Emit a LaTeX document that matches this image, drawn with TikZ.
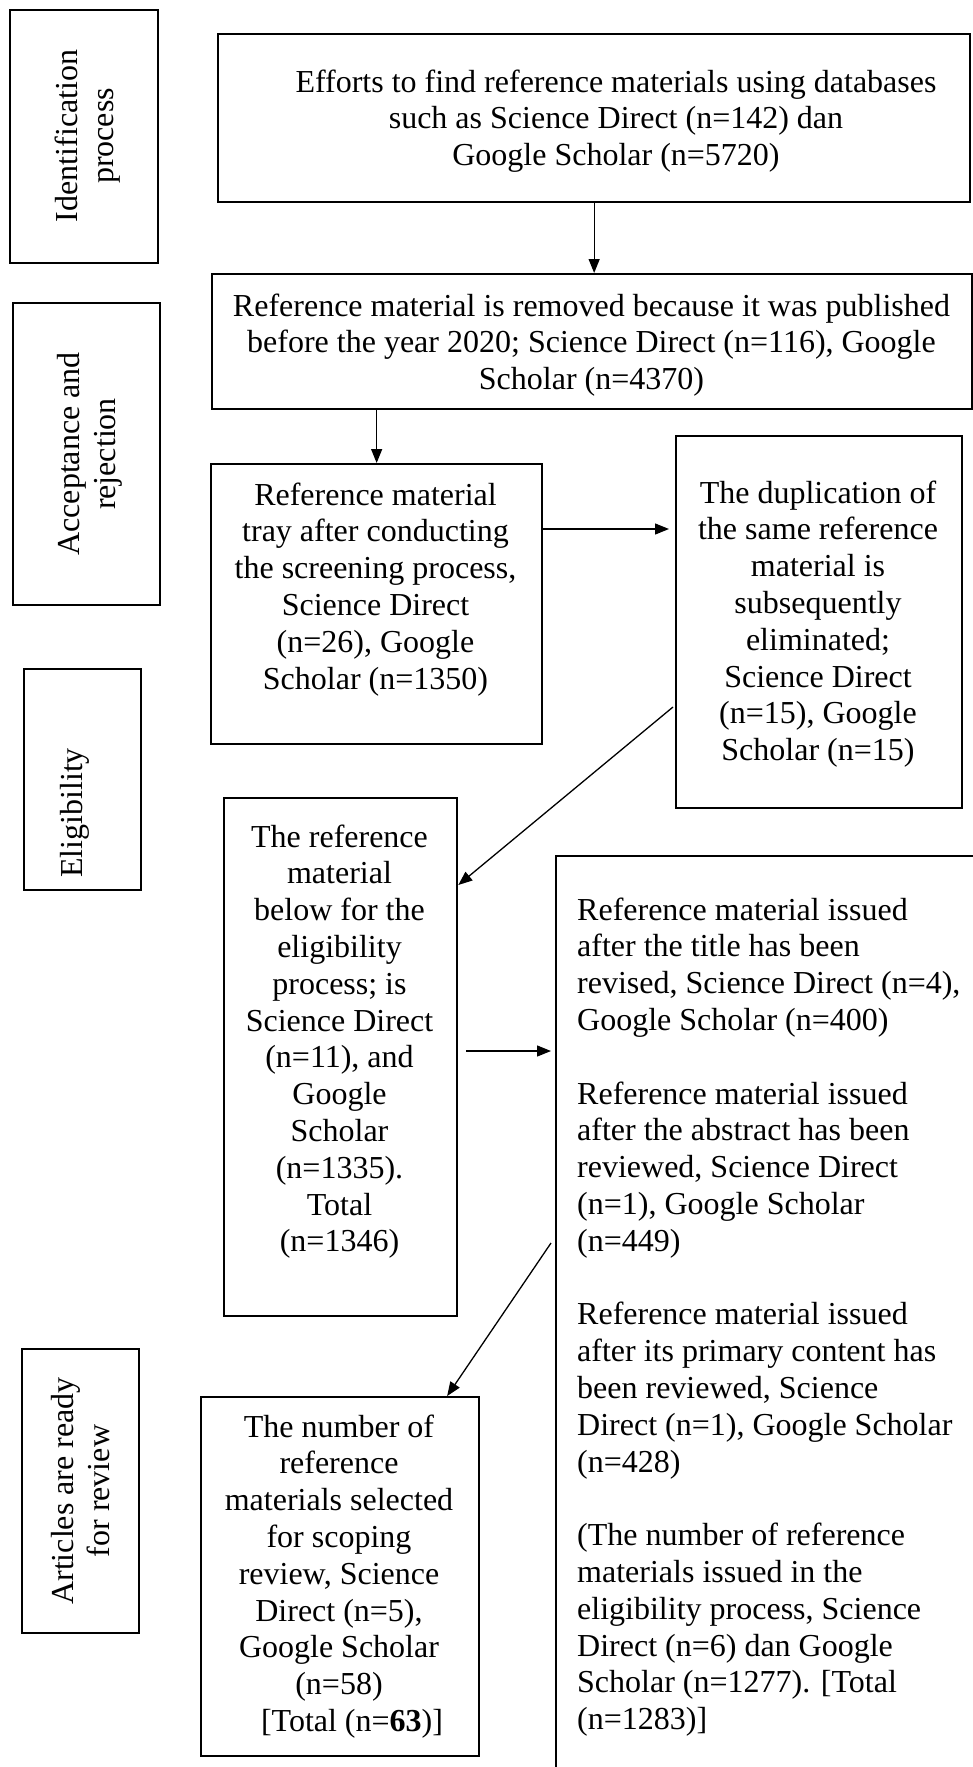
\documentclass[tikz,border=0pt]{standalone}
\usepackage{fontspec}
\setmainfont{Liberation Serif}
\usetikzlibrary{arrows.meta,calc}
\begin{document}
\begin{tikzpicture}[x=1pt,y=-1pt,
  box/.style={draw, line width=2.3pt, rectangle, inner sep=0, anchor=north west},
  txt/.style={font=\fontsize{32}{36.8}\selectfont, inner sep=0, align=center, anchor=north},
  lbl/.style={font=\fontsize{32}{36.8}\selectfont, inner sep=0, align=center, anchor=north, rotate=90},
  arr/.style={-{Triangle[length=14pt,width=11pt]}, line width=1.3pt}]
\useasboundingbox (0,0) rectangle (973,1767);
\clip (0,0) rectangle (973,1767);
\fill[white] (0,0) rectangle (973,1767);

% stage labels
\node[box, minimum width=148pt, minimum height=253pt] (ident) at (9,9) {};
\node[lbl] (identT) at (51.2,136) {\strut Identification\\process};
\node[box, minimum width=147pt, minimum height=302pt] (accept) at (12,302) {};
\node[lbl] (acceptT) at (53.2,454) {\strut Acceptance and\\rejection};
\node[box, minimum width=117pt, minimum height=221pt] (elig) at (23,668) {};
\node[lbl] (eligT) at (56.2,813) {\strut Eligibility};
\node[box, minimum width=117pt, minimum height=284pt] (artic) at (21,1348) {};
\node[lbl] (articT) at (47.2,1491) {\strut Articles are ready\\for review};

% flow boxes
\node[box, minimum width=752pt, minimum height=168pt] (b1) at (217,33) {};
\node[txt] (t1) at (616,66.2) {\strut Efforts to find reference materials using databases\\such as Science Direct (n=142) dan\hspace*{48pt}\\Google Scholar (n=5720)};

\node[box, minimum width=760pt, minimum height=135pt] (b2) at (211,273) {};
\node[txt] (t2) at (591.5,290.2) {\strut Reference material is removed because it was published\\before the year 2020; Science Direct (n=116), Google\\Scholar (n=4370)};

\node[box, minimum width=331pt, minimum height=280pt] (b3) at (210,463) {};
\node[txt] (t3) at (375.5,479.2) {\strut Reference material\\tray after conducting\\the screening process,\\Science Direct\\(n=26), Google\\Scholar (n=1350)};

\node[box, minimum width=286pt, minimum height=372pt] (dup) at (675,435) {};
\node[txt] (tdup) at (818,477.2) {\strut The duplication of\\the same reference\\material is\\subsequently\\eliminated;\\Science Direct\\(n=15), Google\\Scholar (n=15)};

\node[box, minimum width=233pt, minimum height=518pt] (b4) at (223,797) {};
\node[txt] (t4) at (339.5,821.2) {\strut The reference\\material\\below for the\\eligibility\\process; is\\Science Direct\\(n=11), and\\Google\\Scholar\\(n=1335).\\Total\\(n=1346)};

\node[box, minimum width=440pt, minimum height=960pt] (big) at (555,855) {};
\node[txt, align=left, anchor=north west] (tbig) at (577,894.2) {\strut Reference material issued\\after the title has been\\revised, Science Direct (n=4),\\Google Scholar (n=400)\\[36.8pt]Reference material issued\\after the abstract has been\\reviewed, Science Direct\\(n=1), Google Scholar\\(n=449)\\[36.8pt]Reference material issued\\after its primary content has\\been reviewed, Science\\Direct (n=1), Google Scholar\\(n=428)\\[36.8pt](The number of reference\\materials issued in the\\eligibility process, Science\\Direct (n=6) dan Google\\Scholar (n=1277). [Total\\(n=1283)]};

\node[box, minimum width=278pt, minimum height=359pt] (fin) at (200,1396) {};
\node[txt] (tfin) at (339,1411.2) {\strut The number of\\reference\\materials selected\\for scoping\\review, Science\\Direct (n=5),\\Google Scholar\\(n=58)\\\hspace*{26pt}[Total (n=\textbf{63})]};

% connectors
\draw[arr] (b1.south) -- (b1.south |- b2.north);
\draw[arr] (b2.south -| b3.north) -- (b3.north);
\draw[arr] ($(b3.north east)+(0,66)$) -- ($(dup.north west)+(-6,94)$);
\draw[arr] ($(dup.north west)+(-2,272)$) -- ($(b4.north east)+(0,88)$);
\draw[arr] ($(b4.north east)+(8,254)$) -- ($(big.north west)+(-4,196)$);
\draw[arr] ($(big.north west)+(-4,388)$) -- ($(fin.north)+(107,0)$);
\end{tikzpicture}
\end{document}
